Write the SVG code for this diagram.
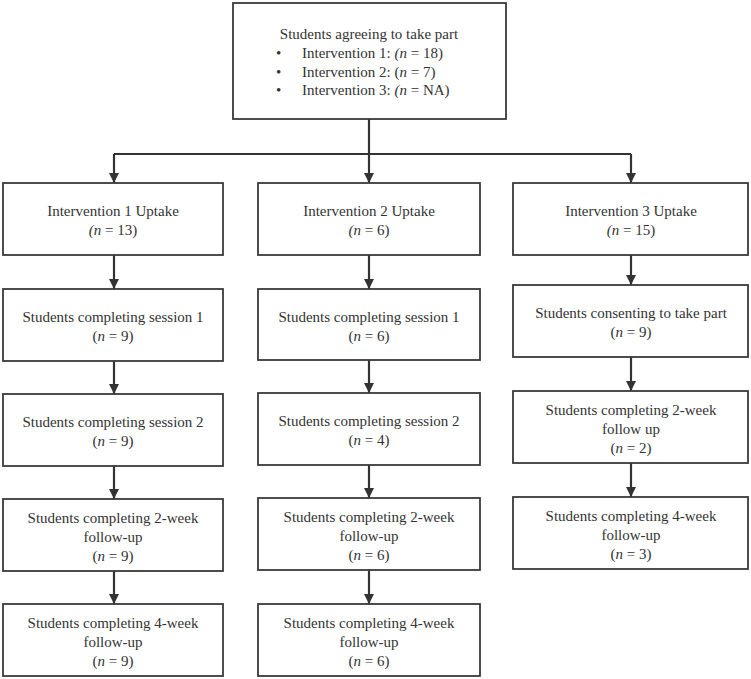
<svg xmlns="http://www.w3.org/2000/svg" width="751" height="679" viewBox="0 0 751 679">
<style>
.box{fill:#fff;stroke:#3a3a3a;stroke-width:1.8}
text{font-family:"Liberation Serif","Times New Roman",serif;font-size:15px;fill:#333}
.c{text-anchor:middle}
.i{font-style:italic}
.con{fill:none;stroke:#333;stroke-width:2.2}
</style>
<defs>
<marker id="ah" markerUnits="userSpaceOnUse" markerWidth="10" markerHeight="10" viewBox="0 0 10 10" refX="10" refY="5" orient="auto">
<path d="M0,0 L10,5 L0,10 Z" fill="#333"/>
</marker>
</defs>
<rect width="751" height="679" fill="#fff"/>
<g id="connectors">
<path class="con" d="M369,119 V154"/>
<path class="con" d="M114,154 H631"/>
<path class="con" d="M114,154 V183" marker-end="url(#ah)"/>
<path class="con" d="M369,154 V183" marker-end="url(#ah)"/>
<path class="con" d="M631,154 V183" marker-end="url(#ah)"/>
<path class="con" d="M114,255 V289" marker-end="url(#ah)"/>
<path class="con" d="M114,361 V394" marker-end="url(#ah)"/>
<path class="con" d="M114,466 V499" marker-end="url(#ah)"/>
<path class="con" d="M114,571 V604" marker-end="url(#ah)"/>
<path class="con" d="M369,255 V289" marker-end="url(#ah)"/>
<path class="con" d="M369,360 V393" marker-end="url(#ah)"/>
<path class="con" d="M369,465 V498" marker-end="url(#ah)"/>
<path class="con" d="M369,570 V604" marker-end="url(#ah)"/>
<path class="con" d="M631,255 V285" marker-end="url(#ah)"/>
<path class="con" d="M631,357 V391" marker-end="url(#ah)"/>
<path class="con" d="M631,463 V497" marker-end="url(#ah)"/>
</g>
<g id="top">
<rect class="box" x="233" y="3" width="273" height="116"/>
<text class="c" x="369" y="38.5">Students agreeing to take part</text>
<text x="276" y="58">•</text><text x="302" y="58">Intervention 1: <tspan class="i">(n</tspan> = 18)</text>
<text x="276" y="76.5">•</text><text x="302" y="76.5">Intervention 2: (<tspan class="i">n</tspan> = 7)</text>
<text x="276" y="95">•</text><text x="302" y="95">Intervention 3: <tspan class="i">(n</tspan> = NA)</text>
</g>
<g id="i1">
<rect class="box" x="3" y="183" width="220" height="72"/>
<text class="c" x="113" y="216">Intervention 1 Uptake</text>
<text class="c" x="113" y="235"><tspan class="i">(n</tspan> = 13)</text>
</g>
<g id="i1s1">
<rect class="box" x="3" y="289" width="220" height="72"/>
<text class="c" x="113" y="322">Students completing session 1</text>
<text class="c" x="113" y="341">(<tspan class="i">n</tspan> = 9)</text>
</g>
<g id="i1s2">
<rect class="box" x="3" y="394" width="220" height="72"/>
<text class="c" x="113" y="427">Students completing session 2</text>
<text class="c" x="113" y="446">(<tspan class="i">n</tspan> = 9)</text>
</g>
<g id="i1f2">
<rect class="box" x="3" y="499" width="220" height="72"/>
<text class="c" x="113" y="523">Students completing 2-week</text>
<text class="c" x="113" y="542">follow-up</text>
<text class="c" x="113" y="561">(<tspan class="i">n</tspan> = 9)</text>
</g>
<g id="i1f4">
<rect class="box" x="3" y="604" width="220" height="72"/>
<text class="c" x="113" y="628">Students completing 4-week</text>
<text class="c" x="113" y="647">follow-up</text>
<text class="c" x="113" y="666">(<tspan class="i">n</tspan> = 9)</text>
</g>
<g id="i2">
<rect class="box" x="258" y="183" width="222" height="72"/>
<text class="c" x="369" y="216">Intervention 2 Uptake</text>
<text class="c" x="369" y="235"><tspan class="i">(n</tspan> = 6)</text>
</g>
<g id="i2s1">
<rect class="box" x="258" y="289" width="222" height="71"/>
<text class="c" x="369" y="322">Students completing session 1</text>
<text class="c" x="369" y="341">(<tspan class="i">n</tspan> = 6)</text>
</g>
<g id="i2s2">
<rect class="box" x="258" y="393" width="222" height="72"/>
<text class="c" x="369" y="426">Students completing session 2</text>
<text class="c" x="369" y="445">(<tspan class="i">n</tspan> = 4)</text>
</g>
<g id="i2f2">
<rect class="box" x="258" y="498" width="222" height="72"/>
<text class="c" x="369" y="522">Students completing 2-week</text>
<text class="c" x="369" y="541">follow-up</text>
<text class="c" x="369" y="560">(<tspan class="i">n</tspan> = 6)</text>
</g>
<g id="i2f4">
<rect class="box" x="258" y="604" width="222" height="72"/>
<text class="c" x="369" y="628">Students completing 4-week</text>
<text class="c" x="369" y="647">follow-up</text>
<text class="c" x="369" y="666">(<tspan class="i">n</tspan> = 6)</text>
</g>
<g id="i3">
<rect class="box" x="513" y="183" width="235" height="72"/>
<text class="c" x="631" y="216">Intervention 3 Uptake</text>
<text class="c" x="631" y="235"><tspan class="i">(n</tspan> = 15)</text>
</g>
<g id="i3c">
<rect class="box" x="513" y="285" width="235" height="72"/>
<text class="c" x="631" y="318">Students consenting to take part</text>
<text class="c" x="631" y="337">(<tspan class="i">n</tspan> = 9)</text>
</g>
<g id="i3f2">
<rect class="box" x="513" y="391" width="235" height="72"/>
<text class="c" x="631" y="415">Students completing 2-week</text>
<text class="c" x="631" y="434">follow up</text>
<text class="c" x="631" y="453">(<tspan class="i">n</tspan> = 2)</text>
</g>
<g id="i3f4">
<rect class="box" x="513" y="497" width="235" height="72"/>
<text class="c" x="631" y="521">Students completing 4-week</text>
<text class="c" x="631" y="540">follow-up</text>
<text class="c" x="631" y="559">(<tspan class="i">n</tspan> = 3)</text>
</g>
</svg>
